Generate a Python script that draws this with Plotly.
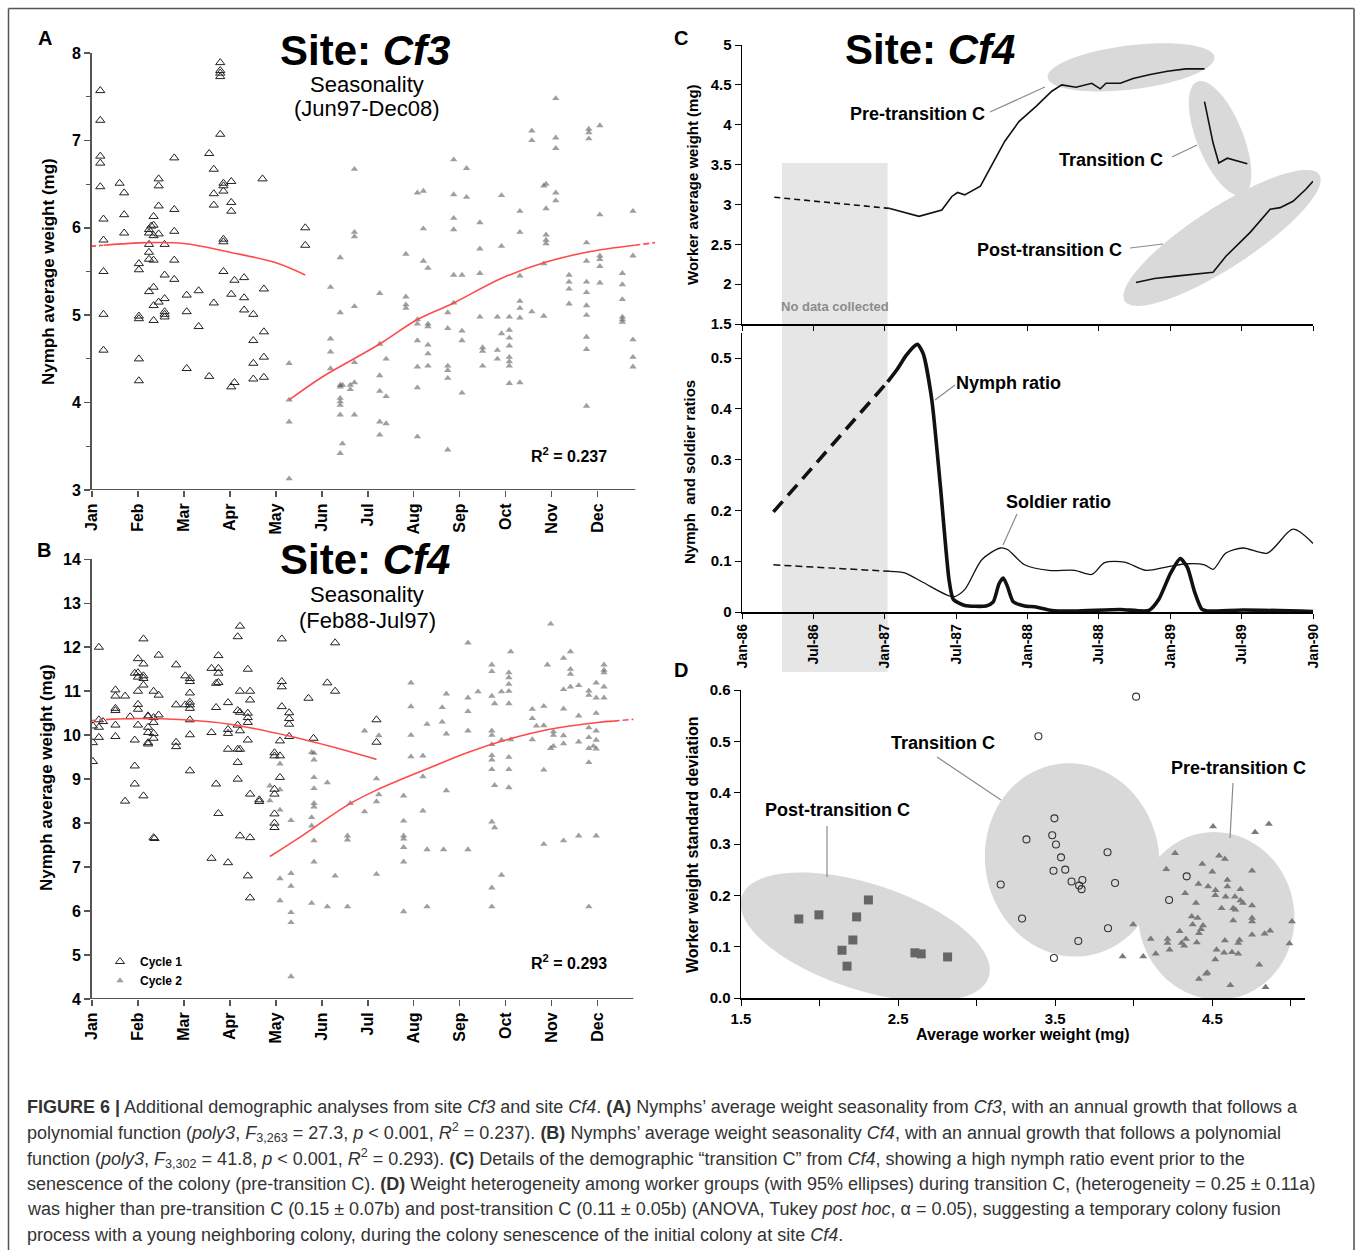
import numpy as np
import plotly.graph_objects as go

W, H = 1357, 1250

# ------------------------------------------------------------------ data
MONTHS = ["Jan", "Feb", "Mar", "Apr", "May", "Jun", "Jul", "Aug", "Sep", "Oct", "Nov", "Dec"]

# Panel A (site Cf3) nymph weights: (month position, [weights])
A_CYCLE1 = [
    (0.18, [7.57, 7.23, 6.82, 6.74, 6.47]), (0.25, [6.10, 5.86, 5.50, 5.01, 4.60]),
    (0.60, [6.51]), (0.70, [6.40, 6.15, 5.94]), (1.02, [5.59, 5.52, 4.99, 4.96, 4.50, 4.25]),
    (1.24, [5.98, 5.94, 5.81, 5.72, 5.64, 5.27]), (1.29, [6.02]),
    (1.34, [6.13, 6.03, 5.91, 5.63, 5.32, 5.11, 4.94]), (1.45, [6.56, 6.48, 6.25, 5.93, 5.15]),
    (1.58, [5.81, 5.46, 5.19, 5.04, 5.01, 4.98]), (1.79, [6.80, 6.21, 5.96, 5.63, 5.41]),
    (2.06, [5.23, 5.04, 4.39]), (2.32, [5.28, 4.87]), (2.55, [6.85, 4.30]),
    (2.65, [6.67, 6.39, 6.26, 5.14]), (2.79, [7.89, 7.80, 7.77, 7.73, 7.07]),
    (2.86, [6.51, 6.48, 6.42, 5.87, 5.84, 5.50]), (3.03, [6.53, 6.29, 6.19, 5.24, 4.18]),
    (3.10, [5.40, 4.23]), (3.31, [5.43, 5.20, 5.06]), (3.51, [5.01, 4.71, 4.45, 4.27]),
    (3.71, [6.56]), (3.74, [5.30, 4.81, 4.52, 4.29]), (4.64, [6.00, 5.80]),
]
A_CYCLE2 = [
    (4.29, [4.45, 4.03, 3.78, 3.13]), (5.19, [5.32, 4.73, 4.58, 4.39]),
    (5.40, [5.66, 5.03, 4.20, 4.18, 4.05, 4.01, 3.97, 3.86, 3.42]), (5.45, [4.20, 3.53]),
    (5.62, [4.20, 4.15]), (5.71, [6.67, 5.95, 5.90, 5.10, 4.46, 4.23, 3.86]),
    (6.26, [5.25, 4.67, 4.31, 4.13, 3.78, 3.63]), (6.40, [4.50, 4.07, 3.76]),
    (6.83, [5.70, 5.21, 5.12, 5.08]), (7.08, [6.40, 4.95, 4.90, 4.71, 4.41, 4.17, 3.61]),
    (7.21, [6.42, 5.99, 5.62]), (7.31, [5.54, 4.90, 4.87, 4.66, 4.56, 4.42]),
    (7.74, [5.03, 4.85, 4.42, 4.37, 4.28, 3.46]), (7.87, [6.78, 6.38, 6.11, 5.98, 5.46, 5.14]),
    (8.05, [5.46, 4.82, 4.71, 4.11]), (8.15, [6.68, 6.35]), (8.44, [6.06, 5.76, 5.48, 4.98]),
    (8.50, [4.63, 4.59, 4.42]), (8.82, [4.98, 4.60, 4.50]), (8.91, [6.37, 5.79, 4.79]),
    (9.08, [4.98, 4.83, 4.74, 4.65, 4.52, 4.47, 4.42, 4.22]),
    (9.31, [6.19, 5.95, 5.45, 5.16, 5.08, 4.97, 4.23]), (9.57, [7.11, 7.00, 5.04]),
    (9.83, [6.48, 5.59, 4.99]), (9.88, [6.50, 6.22, 5.92, 5.86, 5.82]),
    (10.09, [7.48, 7.03, 6.91, 6.40, 6.31]), (10.38, [5.46, 5.38, 5.30, 5.13]),
    (10.76, [5.83, 5.62, 5.38, 5.26, 5.11, 5.00, 4.75, 4.61, 3.96]), (10.81, [7.13, 7.09, 7.02]),
    (11.05, [7.17, 6.15, 5.68, 5.64, 5.56, 5.37]), (11.54, [5.48, 5.35, 5.18, 4.98, 4.95, 4.92]),
    (11.77, [6.19, 5.68, 4.72, 4.52, 4.41]),
]
A_FIT1_M = [0.0, 0.25, 1.2, 2.0, 3.0, 4.0, 4.64]
A_FIT1_W = [5.79, 5.80, 5.83, 5.82, 5.72, 5.60, 5.46]
A_FIT2_M = [4.29, 5.0, 6.26, 7.08, 7.87, 8.9, 9.83, 10.76, 11.8, 12.25]
A_FIT2_W = [4.03, 4.29, 4.67, 4.95, 5.14, 5.42, 5.60, 5.72, 5.80, 5.83]

# Panel B (site Cf4)
B_CYCLE1 = [
    (0.02, [10.21, 9.83, 9.40]), (0.15, [12.0, 10.35, 10.18, 9.95]), (0.24, [10.31]),
    (0.51, [11.03, 10.89, 10.61, 10.56, 10.23, 9.97]), (0.72, [10.89, 8.50]), (0.83, [10.42]),
    (0.93, [11.41, 9.89, 9.30, 8.89]), (1.00, [11.74, 11.42, 11.32, 11.0, 10.70, 10.59, 10.23]),
    (1.12, [12.19, 11.62, 11.35, 11.29, 11.14, 8.62]),
    (1.22, [10.44, 10.42, 10.18, 10.06, 9.83, 9.80]),
    (1.34, [11.0, 10.40, 10.29, 10.04, 9.93, 7.67]), (1.36, [7.65]),
    (1.45, [11.82, 10.91, 10.46]), (1.83, [11.60, 10.69, 9.84, 9.74]), (2.03, [11.35, 10.69]),
    (2.13, [11.29, 11.22, 10.96, 10.75, 10.69, 10.61, 10.35, 10.01, 9.19]),
    (2.60, [11.52, 10.06, 7.20]), (2.70, [11.18, 10.63, 8.89]),
    (2.75, [11.81, 11.52, 11.41, 11.20, 8.22]), (2.96, [10.74, 10.13, 10.04, 9.68, 7.10]),
    (3.17, [12.24, 10.56, 10.23, 9.68, 9.38, 9.0]), (3.22, [12.48, 11.0, 10.52, 10.10, 9.68, 7.71]),
    (3.39, [11.50, 10.50, 10.40, 10.29, 9.89, 6.80]), (3.44, [11.0, 10.80, 8.66, 7.67, 6.30]),
    (3.64, [8.53, 8.49]), (3.97, [9.60, 9.53, 8.77, 8.66, 8.21, 8.0, 7.90]),
    (4.09, [9.87, 9.53, 9.04]), (4.13, [12.19, 11.22, 11.10, 10.65]),
    (4.29, [10.51, 10.38, 10.25, 9.97]), (4.71, [10.84]), (4.82, [9.93]), (5.12, [11.19]),
    (5.29, [12.10, 11.0]), (6.19, [10.35, 9.84]),
]
B_CYCLE2 = [
    (3.87, [8.85, 8.51]), (4.09, [9.35, 8.76, 8.30, 6.74, 6.24]),
    (4.33, [8.06, 6.86, 6.57, 5.97, 5.74, 4.51]), (4.78, [9.61, 8.13, 7.94, 6.18]),
    (4.83, [9.59, 9.44, 9.04, 8.79, 8.45, 8.37, 7.60, 7.12]), (5.12, [8.92, 6.10]),
    (5.29, [6.80]), (5.56, [7.71, 7.62, 6.10]), (5.62, [8.45]), (5.93, [10.10, 8.26]),
    (6.19, [9.01, 8.49, 6.84]), (6.24, [9.99, 8.65]),
    (6.78, [8.62, 8.05, 7.71, 7.64, 7.45, 7.12, 5.99]), (6.94, [11.19, 10.65, 10.0, 9.51]),
    (7.20, [9.53, 9.06, 8.28]), (7.29, [10.25, 7.40, 6.10]), (7.62, [10.63, 10.30]),
    (7.65, [7.40]), (7.71, [10.94, 10.03, 8.74]), (8.18, [12.10, 10.85, 10.54, 10.10, 7.40]),
    (8.40, [10.99]),
    (8.70, [11.60, 11.45, 10.89, 10.10, 10.0, 9.79, 9.54, 9.44, 9.22, 8.03, 6.53, 6.10]),
    (8.76, [10.72, 8.86, 7.90]), (8.91, [10.99, 9.89, 6.82]),
    (9.07, [11.42, 11.31, 11.16, 11.0, 10.72, 9.50, 9.22, 8.81]), (9.11, [11.90, 9.90]),
    (9.58, [10.59, 10.38, 9.90]), (9.67, [10.21]), (9.83, [10.66, 10.22, 9.21, 7.52]),
    (9.91, [11.60]), (9.98, [12.53, 9.70]), (10.04, [10.08, 10.0, 9.75]),
    (10.26, [11.75, 11.04, 10.60, 9.99, 9.81, 7.60]), (10.41, [11.90, 11.50, 11.39, 11.10]),
    (10.59, [11.13, 10.44, 9.85, 7.71]), (10.81, [11.01, 10.91, 10.17, 9.95, 9.70, 9.38, 6.10]),
    (10.91, [9.75]), (10.97, [11.19, 10.85, 10.50, 10.10, 9.89, 9.69, 7.71]),
    (11.14, [11.60, 11.48, 11.42, 11.10, 10.85]),
]
B_FIT1_M = [0.0, 0.35, 1.0, 2.0, 3.0, 4.29, 5.56, 6.19]
B_FIT1_W = [10.33, 10.36, 10.38, 10.35, 10.25, 9.98, 9.64, 9.45]
B_FIT2_M = [3.87, 4.51, 5.56, 6.19, 7.40, 8.13, 9.0, 9.93, 11.0, 11.35, 11.78]
B_FIT2_W = [7.24, 7.67, 8.41, 8.75, 9.28, 9.59, 9.89, 10.13, 10.29, 10.32, 10.36]

# Panel C (site Cf4 time series; x = decimal year)
C_WW_DASH_T = [1986.226, 1987.035]
C_WW_DASH_V = [3.09, 2.95]
C_WW_T = [1987.035, 1987.24, 1987.40, 1987.47, 1987.51, 1987.56, 1987.67, 1987.76, 1987.84,
          1987.94, 1988.06, 1988.17, 1988.24, 1988.34, 1988.45, 1988.51, 1988.55, 1988.65,
          1988.74, 1988.86, 1988.98, 1989.11, 1989.24]
C_WW_V = [2.95, 2.85, 2.93, 3.10, 3.15, 3.12, 3.23, 3.52, 3.79, 4.04, 4.23, 4.42, 4.50, 4.47,
          4.52, 4.45, 4.52, 4.52, 4.58, 4.63, 4.67, 4.70, 4.70]
C_TR_T = [1989.24, 1989.30, 1989.34, 1989.40, 1989.54]
C_TR_V = [4.29, 3.77, 3.52, 3.58, 3.51]
C_POST_T = [1988.76, 1988.89, 1989.04, 1989.23, 1989.30, 1989.39, 1989.56, 1989.70, 1989.77,
            1989.86, 1989.95, 1990.0]
C_POST_V = [2.02, 2.07, 2.10, 2.14, 2.15, 2.35, 2.65, 2.94, 2.96, 3.04, 3.19, 3.29]

NYMPH_DASH_T = [1986.22, 1987.02]
NYMPH_DASH_V = [0.197, 0.453]
NYMPH_T = [1987.02, 1987.09, 1987.15, 1987.21, 1987.23, 1987.27, 1987.33, 1987.39, 1987.45,
           1987.48, 1987.56, 1987.71, 1987.76, 1987.80, 1987.83, 1987.86, 1987.90, 1987.98,
           1988.06, 1988.17, 1988.33, 1988.65, 1988.85, 1988.92, 1989.00, 1989.07, 1989.12,
           1989.17, 1989.22, 1989.26, 1989.51, 1990.0]
NYMPH_V = [0.453, 0.479, 0.505, 0.524, 0.527, 0.508, 0.417, 0.247, 0.064, 0.025, 0.013, 0.012,
           0.020, 0.055, 0.067, 0.050, 0.020, 0.012, 0.010, 0.003, 0.002, 0.005, 0.003, 0.025,
           0.075, 0.105, 0.088, 0.040, 0.006, 0.002, 0.004, 0.001]
SOLDIER_DASH_T = [1986.22, 1987.035]
SOLDIER_DASH_V = [0.093, 0.080]
SOLDIER_T = [1987.035, 1987.14, 1987.27, 1987.48, 1987.56, 1987.68, 1987.81, 1987.86, 1987.98,
             1988.15, 1988.33, 1988.45, 1988.54, 1988.68, 1988.83, 1988.98, 1989.12, 1989.24,
             1989.30, 1989.39, 1989.51, 1989.68, 1989.86, 1990.0]
SOLDIER_V = [0.080, 0.077, 0.058, 0.030, 0.044, 0.103, 0.126, 0.123, 0.093, 0.082, 0.082, 0.074,
             0.097, 0.098, 0.082, 0.089, 0.095, 0.093, 0.084, 0.116, 0.126, 0.116, 0.163, 0.135]
NO_DATA_SPAN = [1986.28, 1987.02]
C_TICKS = [1986.0, 1986.5, 1987.0, 1987.5, 1988.0, 1988.5, 1989.0, 1989.5, 1990.0]
C_TICKTEXT = ["Jan-86", "Jul-86", "Jan-87", "Jul-87", "Jan-88", "Jul-88", "Jan-89", "Jul-89", "Jan-90"]

# Panel D (worker weight mean vs SD)
POST_X = [1.868, 1.996, 2.236, 2.311, 2.212, 2.143, 2.175, 2.607, 2.647, 2.815]
POST_Y = [0.154, 0.162, 0.158, 0.191, 0.113, 0.093, 0.062, 0.088, 0.086, 0.080]
TRANS_X = [3.153, 3.289, 3.317, 3.393, 3.481, 3.495, 3.505, 3.489, 3.492, 3.537, 3.564, 3.604,
           3.647, 3.652, 3.673, 3.668, 3.833, 3.836, 3.881, 4.015, 4.225, 4.337]
TRANS_Y = [0.221, 0.155, 0.309, 0.510, 0.317, 0.350, 0.299, 0.248, 0.078, 0.274, 0.250, 0.227,
           0.111, 0.219, 0.230, 0.212, 0.284, 0.136, 0.224, 0.587, 0.191, 0.237]
PRE_X = [3.929, 3.996, 4.06, 4.108, 4.14, 4.207, 4.215, 4.215, 4.228, 4.263, 4.292, 4.305, 4.321,
         4.332, 4.327, 4.369, 4.396, 4.401, 4.375, 4.407, 4.412, 4.415, 4.415, 4.428, 4.436,
         4.441, 4.46, 4.473, 4.50, 4.505, 4.468, 4.519, 4.521, 4.527, 4.519, 4.543, 4.559,
         4.575, 4.58, 4.58, 4.585, 4.596, 4.596, 4.615, 4.625, 4.633, 4.633, 4.644, 4.647,
         4.665, 4.665, 4.673, 4.679, 4.679, 4.695, 4.753, 4.753, 4.753, 4.753, 4.753, 4.772,
         4.799, 4.833, 4.839, 4.86, 4.868, 5.007, 4.991]
PRE_Y = [0.081, 0.143, 0.081, 0.115, 0.086, 0.251, 0.115, 0.107, 0.094, 0.282, 0.130, 0.107,
         0.102, 0.115, 0.204, 0.159, 0.185, 0.108, 0.143, 0.156, 0.222, 0.037, 0.126, 0.134,
         0.261, 0.141, 0.047, 0.217, 0.246, 0.334, 0.049, 0.200, 0.210, 0.094, 0.075, 0.277,
         0.175, 0.088, 0.271, 0.112, 0.197, 0.230, 0.217, 0.025, 0.089, 0.175, 0.151, 0.197,
         0.172, 0.107, 0.086, 0.113, 0.212, 0.190, 0.185, 0.248, 0.180, 0.156, 0.149, 0.123,
         0.323, 0.065, 0.125, 0.021, 0.339, 0.131, 0.149, 0.106]

# ------------------------------------------------------------------ geometry (page pixels)
AR = "Liberation Sans, Arial, sans-serif"
NAR = "Liberation Sans Narrow, Arial Narrow, Liberation Sans, Arial, sans-serif"
AX = {
    1: dict(xd=(92, 655), xr=(0, 12.25), yd=(490, 53), yr=(3, 8)),
    2: dict(xd=(92, 655), xr=(0, 12.25), yd=(999, 559.3), yr=(4, 14)),
    3: dict(xd=(742, 1313), xr=(1986, 1990), yd=(324, 45), yr=(1.5, 5)),
    4: dict(xd=(742, 1313), xr=(1986, 1990), yd=(612, 332.6), yr=(0, 0.55)),
    5: dict(xd=(741, 1305), xr=(1.5, 5.09), yd=(998, 690), yr=(0, 0.6)),
}


def PX(x):
    return np.asarray(x) / W


def PY(y):
    return 1 - np.asarray(y) / H


def to_px(n, x, y):
    g = AX[n]
    px = g['xd'][0] + (np.asarray(x) - g['xr'][0]) / (g['xr'][1] - g['xr'][0]) * (g['xd'][1] - g['xd'][0])
    py = g['yd'][0] + (np.asarray(y) - g['yr'][0]) / (g['yr'][1] - g['yr'][0]) * (g['yd'][1] - g['yd'][0])
    return px, py


def to_data(n, px, py):
    g = AX[n]
    x = g['xr'][0] + (px - g['xd'][0]) / (g['xd'][1] - g['xd'][0]) * (g['xr'][1] - g['xr'][0])
    y = g['yr'][0] + (py - g['yd'][0]) / (g['yd'][1] - g['yd'][0]) * (g['yr'][1] - g['yr'][0])
    return x, y


def expand(groups):
    xs, ys = [], []
    for m, vals in groups:
        xs += [m] * len(vals)
        ys += vals
    return xs, ys


def ellipse_path(n, cx, cy, a, b, ang, paper):
    """Ellipse centred at data (cx, cy) with semi-axes a, b in pixels, rotated ang degrees."""
    cpx, cpy = to_px(n, cx, cy)
    t = np.linspace(0, 2 * np.pi, 90)
    r = np.radians(ang)
    ex = cpx + a * np.cos(t) * np.cos(r) - b * np.sin(t) * np.sin(r)
    ey = cpy - (a * np.cos(t) * np.sin(r) + b * np.sin(t) * np.cos(r))
    if paper:
        xs, ys = PX(ex), PY(ey)
    else:
        xs, ys = to_data(n, ex, ey)
    return "M " + " L ".join(f"{u:.5f},{v:.5f}" for u, v in zip(xs, ys)) + " Z"


fig = go.Figure()


def sfx(n):
    return "" if n == 1 else str(n)


RED = "#ff4a4a"
C1_MARK = dict(symbol="triangle-up-open", size=8, color="#222222", line=dict(width=1, color="#222222"))
C2_MARK = dict(symbol="triangle-up", size=6.5, color="rgba(95,95,95,0.6)", line=dict(width=0))

# ---- Panels A and B
for n, c1, c2, f1m, f1w, f2m, f2w, d1, d2 in [
    (1, A_CYCLE1, A_CYCLE2, A_FIT1_M, A_FIT1_W, A_FIT2_M, A_FIT2_W, 0.25, 11.8),
    (2, B_CYCLE1, B_CYCLE2, B_FIT1_M, B_FIT1_W, B_FIT2_M, B_FIT2_W, 0.35, 11.35),
]:
    ax = dict(xaxis="x" + sfx(n), yaxis="y" + sfx(n))
    x1, y1 = expand(c1)
    x2, y2 = expand(c2)
    fig.add_trace(go.Scatter(x=x1, y=y1, mode="markers", marker=C1_MARK, name="Cycle 1",
                             showlegend=(n == 2), **ax))
    fig.add_trace(go.Scatter(x=x2, y=y2, mode="markers", marker=C2_MARK, name="Cycle 2",
                             showlegend=(n == 2), **ax))
    i = f1m.index(d1)
    fig.add_trace(go.Scatter(x=f1m[:i + 1], y=f1w[:i + 1], mode="lines",
                             line=dict(color=RED, width=1.6, dash="4px,3px"), showlegend=False, **ax))
    fig.add_trace(go.Scatter(x=f1m[i:], y=f1w[i:], mode="lines", line_shape="spline",
                             line=dict(color=RED, width=1.6), showlegend=False, **ax))
    j = f2m.index(d2)
    fig.add_trace(go.Scatter(x=f2m[:j + 1], y=f2w[:j + 1], mode="lines", line_shape="spline",
                             line=dict(color=RED, width=1.6), showlegend=False, **ax))
    fig.add_trace(go.Scatter(x=f2m[j:], y=f2w[j:], mode="lines",
                             line=dict(color=RED, width=1.6, dash="6px,3px"), showlegend=False, **ax))

# ---- Panel C top
axc = dict(xaxis="x3", yaxis="y3")
BLK = "#111111"
fig.add_trace(go.Scatter(x=C_WW_DASH_T, y=C_WW_DASH_V, mode="lines",
                         line=dict(color=BLK, width=1.6, dash="6px,4px"), showlegend=False, **axc))
for tt, vv in [(C_WW_T, C_WW_V), (C_TR_T, C_TR_V), (C_POST_T, C_POST_V)]:
    fig.add_trace(go.Scatter(x=tt, y=vv, mode="lines", line=dict(color=BLK, width=1.6),
                             showlegend=False, **axc))

# ---- Panel C bottom
axr = dict(xaxis="x4", yaxis="y4")
fig.add_trace(go.Scatter(x=NYMPH_DASH_T, y=NYMPH_DASH_V, mode="lines",
                         line=dict(color=BLK, width=3.6, dash="14px,8px"), showlegend=False, **axr))
fig.add_trace(go.Scatter(x=NYMPH_T, y=NYMPH_V, mode="lines", line_shape="spline",
                         line=dict(color=BLK, width=3.6, smoothing=0.6), showlegend=False, **axr))
fig.add_trace(go.Scatter(x=SOLDIER_DASH_T, y=SOLDIER_DASH_V, mode="lines",
                         line=dict(color=BLK, width=1.5, dash="7px,4px"), showlegend=False, **axr))
fig.add_trace(go.Scatter(x=SOLDIER_T, y=SOLDIER_V, mode="lines", line_shape="spline",
                         line=dict(color=BLK, width=1.3, smoothing=0.8), showlegend=False, **axr))

# ---- Panel D
axd = dict(xaxis="x5", yaxis="y5")
fig.add_trace(go.Scatter(x=POST_X, y=POST_Y, mode="markers", showlegend=False,
                         marker=dict(symbol="square", size=9, color="#666666"), **axd))
fig.add_trace(go.Scatter(x=TRANS_X, y=TRANS_Y, mode="markers", showlegend=False,
                         marker=dict(symbol="circle-open", size=7, color="#333333",
                                     line=dict(width=1.1, color="#333333")), **axd))
fig.add_trace(go.Scatter(x=PRE_X, y=PRE_Y, mode="markers", showlegend=False,
                         marker=dict(symbol="triangle-up", size=7, color="#7a7a7a"), **axd))

# ------------------------------------------------------------------ layout / axes
layout = dict(
    template="none",
    width=W, height=H, autosize=False,
    margin=dict(l=0, r=0, t=0, b=0, pad=0, autoexpand=False),
    paper_bgcolor="white", plot_bgcolor="rgba(0,0,0,0)",
    showlegend=True,
    legend=dict(x=float(PX(100)), y=float(PY(947)), xanchor="left", yanchor="top",
                bgcolor="rgba(0,0,0,0)", borderwidth=0, tracegroupgap=0,
                itemwidth=30, font=dict(family=AR, size=12, color="black", weight="bold")),
)

TICKF_A = dict(family=AR, size=16, color="black", weight="bold")
TICKF_N = dict(family=NAR, size=15, color="black", weight="bold")


def add_axes(n, xkw, ykw):
    g = AX[n]
    s = sfx(n)
    xa = dict(domain=[float(PX(g['xd'][0])), float(PX(g['xd'][1]))], range=list(g['xr']),
              anchor="y" + s, showgrid=False, zeroline=False, fixedrange=True, automargin=False)
    ya = dict(domain=[float(PY(g['yd'][0])), float(PY(g['yd'][1]))], range=list(g['yr']),
              anchor="x" + s, showgrid=False, zeroline=False, fixedrange=True, automargin=False)
    xa.update(xkw)
    ya.update(ykw)
    layout["xaxis" + s] = xa
    layout["yaxis" + s] = ya


for n, ylo, yhi, minor in [(1, 3, 8, True), (2, 4, 14, False)]:
    ykw = dict(showline=True, linecolor="#555555", linewidth=2, ticks="outside", ticklen=6,
               tickwidth=1.5, tickcolor="#555555", tickvals=list(range(ylo, yhi + 1)),
               tickfont=TICKF_A)
    if minor:
        ykw["minor"] = dict(tickvals=[v + 0.5 for v in range(ylo, yhi)], ticks="outside",
                            ticklen=4, tickcolor="#555555", tickwidth=1.2)
    add_axes(n,
             dict(showline=False, ticks="outside", ticklen=6, tickwidth=1.5, tickcolor="#555555",
                  tickvals=list(range(12)), ticktext=MONTHS, tickangle=-90, tickfont=TICKF_A),
             ykw)

add_axes(3,
         dict(showline=True, linecolor="black", linewidth=1.5, ticks="outside", ticklen=5,
              tickcolor="black", tickvals=C_TICKS, showticklabels=False),
         dict(showline=True, linecolor="black", linewidth=1.5, ticks="outside", ticklen=6,
              tickcolor="black", tickvals=[1.5, 2, 2.5, 3, 3.5, 4, 4.5, 5], tickfont=TICKF_N))
add_axes(4,
         dict(showline=True, linecolor="black", linewidth=1.5, ticks="outside", ticklen=5,
              tickcolor="black", tickvals=C_TICKS, ticktext=C_TICKTEXT, tickangle=-90,
              tickfont=dict(family=NAR, size=14, color="black", weight="bold")),
         dict(showline=True, linecolor="black", linewidth=1.5, ticks="outside", ticklen=6,
              tickcolor="black", tickvals=[0, 0.1, 0.2, 0.3, 0.4, 0.5], tickfont=TICKF_N))
add_axes(5,
         dict(showline=True, linecolor="black", linewidth=1.5, ticks="outside", ticklen=6,
              tickcolor="black", tickvals=[1.5, 2, 2.5, 3, 3.5, 4, 4.5, 5],
              ticktext=["1.5", "", "2.5", "", "3.5", "", "4.5", ""], tickfont=TICKF_N),
         dict(showline=True, linecolor="black", linewidth=1.5, ticks="outside", ticklen=6,
              tickcolor="black", tickvals=[0, 0.1, 0.2, 0.3, 0.4, 0.5, 0.6],
              ticktext=["0.0", "0.1", "0.2", "0.3", "0.4", "0.5", "0.6"], tickfont=TICKF_N))

# ------------------------------------------------------------------ shapes
shapes = []
GREY_FILL = "#d9d9d9"


def pline(xa_, ya_, xb_, yb_, color, width):
    shapes.append(dict(type="line", xref="paper", yref="paper", x0=float(PX(xa_)), y0=float(PY(ya_)),
                       x1=float(PX(xb_)), y1=float(PY(yb_)), line=dict(color=color, width=width)))


# outer frame (left, top, right edges)
pline(8.5, 8.5, 1354, 8.5, "#555555", 1.5)
pline(8.5, 8.5, 8.5, 1252, "#555555", 1.5)
pline(1354, 8.5, 1354, 1252, "#777777", 2)
# bottom axis lines of A and B (end short of the plotted fit extension)
shapes.append(dict(type="line", xref="x", yref="y", x0=0, x1=11.82, y0=3, y1=3,
                   line=dict(color="#555555", width=2)))
shapes.append(dict(type="line", xref="x2", yref="y2", x0=0, x1=11.78, y0=4, y1=4,
                   line=dict(color="#555555", width=2)))
# no-data band in C
shapes.append(dict(type="rect", xref="x3", yref="paper", x0=NO_DATA_SPAN[0], x1=NO_DATA_SPAN[1],
                   y0=float(PY(672)), y1=float(PY(163)), fillcolor="#e6e6e6", line=dict(width=0),
                   layer="below"))
# C ellipses (centre in data, axes in px, angle deg)
for cx, cy, a, b, ang in [(1988.725, 4.72, 84, 22, 7), (1989.349, 3.83, 61, 23, 112),
                          (1989.363, 2.58, 116, 30, 33)]:
    shapes.append(dict(type="path", xref="paper", yref="paper",
                       path=ellipse_path(3, cx, cy, a, b, ang, True),
                       fillcolor=GREY_FILL, line=dict(width=0), layer="below"))
# D ellipses
for cx, cy, a, b, ang in [(2.29, 0.119, 130, 53, -18), (3.608, 0.269, 97, 87, 100),
                          (4.525, 0.160, 84, 78, 100)]:
    shapes.append(dict(type="path", xref="x5", yref="y5",
                       path=ellipse_path(5, cx, cy, a, b, ang, False),
                       fillcolor=GREY_FILL, line=dict(width=0), layer="below"))
# leader lines (page pixel positions)
LEADERS = [((990, 112), (1045, 87)), ((1172, 157), (1197, 145)), ((1130, 248), (1163, 244)),
           ((935, 400), (955, 385)), ((1003, 545), (1017, 514)),
           ((937, 757), (1001, 800)), ((1233, 783), (1230, 838)), ((827, 826), (827, 877))]
for (xa_, ya_), (xb_, yb_) in LEADERS:
    pline(xa_, ya_, xb_, yb_, "#8a8a8a", 1.2)
layout["shapes"] = shapes

# ------------------------------------------------------------------ annotations
ann = []


def text(x, y, s, size, family=AR, bold=True, color="black", angle=0, xanchor="center",
         yanchor="middle"):
    ann.append(dict(x=float(PX(x)), y=float(PY(y)), xref="paper", yref="paper", text=s,
                    showarrow=False, xanchor=xanchor, yanchor=yanchor, textangle=angle,
                    font=dict(family=family, size=size, color=color,
                              weight="bold" if bold else "normal")))


for (lx, ly, s) in [(45, 38, "A"), (44, 550, "B"), (681, 38, "C"), (681, 670, "D")]:
    text(lx, ly, s, 20)
text(365, 51, "Site: <i>Cf3</i>", 42)
text(367, 84, "Seasonality", 22, bold=False)
text(367, 108, "(Jun97-Dec08)", 22, bold=False)
text(365, 560, "Site: <i>Cf4</i>", 42)
text(367, 594, "Seasonality", 22, bold=False)
text(367, 620, "(Feb88-Jul97)", 22, bold=False)
text(930, 49, "Site: <i>Cf4</i>", 42)
text(569, 455, "R<sup>2</sup> = 0.237", 16)
text(569, 962, "R<sup>2</sup> = 0.293", 16)
text(48, 272, "Nymph average weight (mg)", 17, angle=-90)
text(47, 778, "Nymph average weight (mg)", 17, angle=-90)
text(692, 185, "Worker average weight (mg)", 15, family=NAR, angle=-90)
text(690, 472, "Nymph  and soldier ratios", 15, family=NAR, angle=-90)
text(692, 845, "Worker weight standard deviation", 16, family=NAR, angle=-90)
text(1023, 1034, "Average worker weight (mg)", 16, family=NAR)
text(917, 114, "Pre-transition C", 18, family=NAR)
text(1111, 160, "Transition C", 18, family=NAR)
text(1049, 250, "Post-transition C", 18, family=NAR)
text(835, 306, "No data collected", 13, family=NAR, color="#8c8c8c")
text(1008, 383, "Nymph ratio", 18, family=NAR)
text(1058, 502, "Soldier ratio", 18, family=NAR)
text(943, 743, "Transition C", 18, family=NAR)
text(1238, 768, "Pre-transition C", 18, family=NAR)
text(837, 810, "Post-transition C", 18, family=NAR)

CAPTION = [
    "<b>FIGURE 6 |</b> Additional demographic analyses from site <i>Cf3</i> and site <i>Cf4</i>. "
    "<b>(A)</b> Nymphs\u2019 average weight seasonality from <i>Cf3</i>, with an annual growth that follows a",
    "polynomial function (<i>poly3</i>, <i>F</i><sub>3,263</sub> = 27.3, <i>p</i> &lt; 0.001, "
    "<i>R</i><sup>2</sup> = 0.237). <b>(B)</b> Nymphs\u2019 average weight seasonality <i>Cf4</i>, "
    "with an annual growth that follows a polynomial",
    "function (<i>poly3</i>, <i>F</i><sub>3,302</sub> = 41.8, <i>p</i> &lt; 0.001, <i>R</i><sup>2</sup> "
    "= 0.293). <b>(C)</b> Details of the demographic \u201ctransition C\u201d from <i>Cf4</i>, showing "
    "a high nymph ratio event prior to the",
    "senescence of the colony (pre-transition C). <b>(D)</b> Weight heterogeneity among worker groups "
    "(with 95% ellipses) during transition C, (heterogeneity = 0.25 \u00b1 0.11a)",
    "was higher than pre-transition C (0.15 \u00b1 0.07b) and post-transition C (0.11 \u00b1 0.05b) "
    "(ANOVA, Tukey <i>post hoc</i>, \u03b1 = 0.05), suggesting a temporary colony fusion",
    "process with a young neighboring colony, during the colony senescence of the initial colony at "
    "site <i>Cf4</i>.",
]
for k, line in enumerate(CAPTION):
    text(25, 1107 + 25.5 * k, line, 18, bold=False, color="#333333", xanchor="left")

layout["annotations"] = ann
fig.update_layout(**layout)

fig.write_html("out.html", config=dict(displayModeBar=False, staticPlot=True),
               post_script="document.body.style.margin='0';document.body.style.overflow='hidden';")
